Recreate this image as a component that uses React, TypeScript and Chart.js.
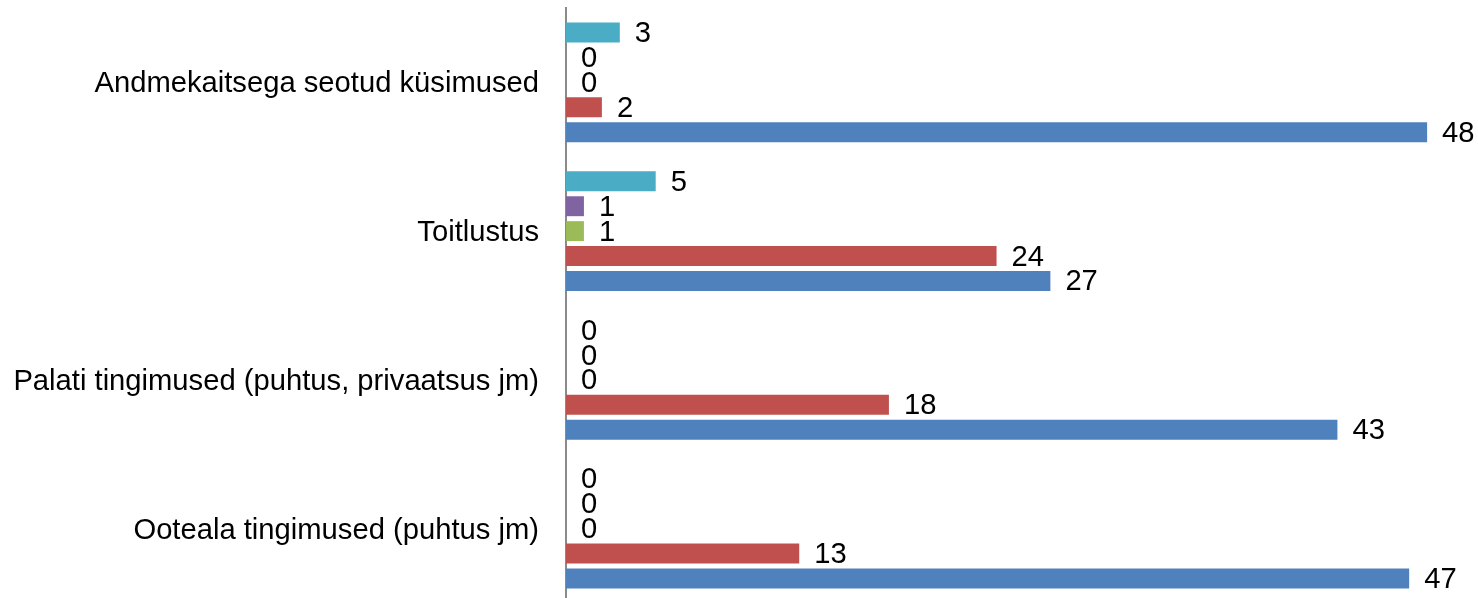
import React, { useEffect, useRef } from "react";
import { Chart, registerables } from "chart.js";

Chart.register(...registerables);

// Categories listed top to bottom as they appear in the chart
const categories: string[] = [
  "Andmekaitsega seotud küsimused",
  "Toitlustus",
  "Palati tingimused (puhtus, privaatsus jm)",
  "Ooteala tingimused (puhtus jm)",
];

// Series listed top to bottom within each category
const seriesCyan: number[] = [3, 5, 0, 0];
const seriesPurple: number[] = [0, 1, 0, 0];
const seriesGreen: number[] = [0, 1, 0, 0];
const seriesRed: number[] = [2, 24, 18, 13];
const seriesBlue: number[] = [48, 27, 43, 47];

const seriesNames: string[] = ["Seeria 5", "Seeria 4", "Seeria 3", "Seeria 2", "Seeria 1"];
const seriesColors: string[] = ["#4BACC6", "#8064A2", "#9BBB59", "#C0504D", "#4F81BD"];

const xMin = 0;
const xMax = 50;

const FONT = "'Liberation Sans', Arial, sans-serif";

const valueLabels = {
  id: "valueLabels",
  afterDatasetsDraw(chart: any) {
    const ctx = chart.ctx;
    ctx.save();
    ctx.font = `29.2px ${FONT}`;
    ctx.fillStyle = "#000000";
    ctx.textAlign = "left";
    ctx.textBaseline = "middle";
    chart.data.datasets.forEach((ds: any, di: number) => {
      const meta = chart.getDatasetMeta(di);
      meta.data.forEach((el: any, i: number) => {
        const v = ds.data[i];
        ctx.fillText(String(v), el.x + 15, el.y + 1.5);
      });
    });
    ctx.restore();
  },
};

export default function App() {
  const ref = useRef<HTMLCanvasElement | null>(null);

  useEffect(() => {
    if (!ref.current) return;
    const allSeries = [seriesCyan, seriesPurple, seriesGreen, seriesRed, seriesBlue];
    const chart = new Chart(ref.current, {
      type: "bar",
      data: {
        labels: categories,
        datasets: allSeries.map((d, i) => ({
          label: seriesNames[i],
          data: d,
          backgroundColor: seriesColors[i],
          borderWidth: 0,
          categoryPercentage: 0.837,
          barPercentage: 0.8,
        })),
      },
      options: {
        indexAxis: "y",
        responsive: false,
        animation: false,
        devicePixelRatio: 1,
        layout: { padding: { top: 8, bottom: 0, left: 0, right: 15 } },
        plugins: {
          legend: { display: false },
          tooltip: { enabled: false },
          title: { display: false },
        },
        scales: {
          x: {
            display: false,
            min: xMin,
            max: xMax,
            grid: { display: false },
          },
          y: {
            grid: { display: false, drawTicks: false },
            border: { display: true, color: "#8A8A8A", width: 2 },
            ticks: {
              autoSkip: false,
              padding: 27,
              labelOffset: 2,
              color: "#000000",
              font: { family: FONT, size: 29.2 },
            },
            afterFit: (scale: any) => {
              scale.width = 566;
              scale.paddingTop = 0;
              scale.paddingBottom = 0;
              scale.paddingLeft = 0;
              scale.paddingRight = 0;
            },
          },
        },
      },
      plugins: [valueLabels],
    } as any);
    return () => chart.destroy();
  }, []);

  return (
    <div
      style={{
        position: "fixed",
        top: 0,
        left: 0,
        width: 1478,
        height: 598,
        overflow: "hidden",
        background: "#ffffff",
      }}
    >
      <canvas ref={ref} width={1478} height={603} style={{ display: "block" }} />
    </div>
  );
}
